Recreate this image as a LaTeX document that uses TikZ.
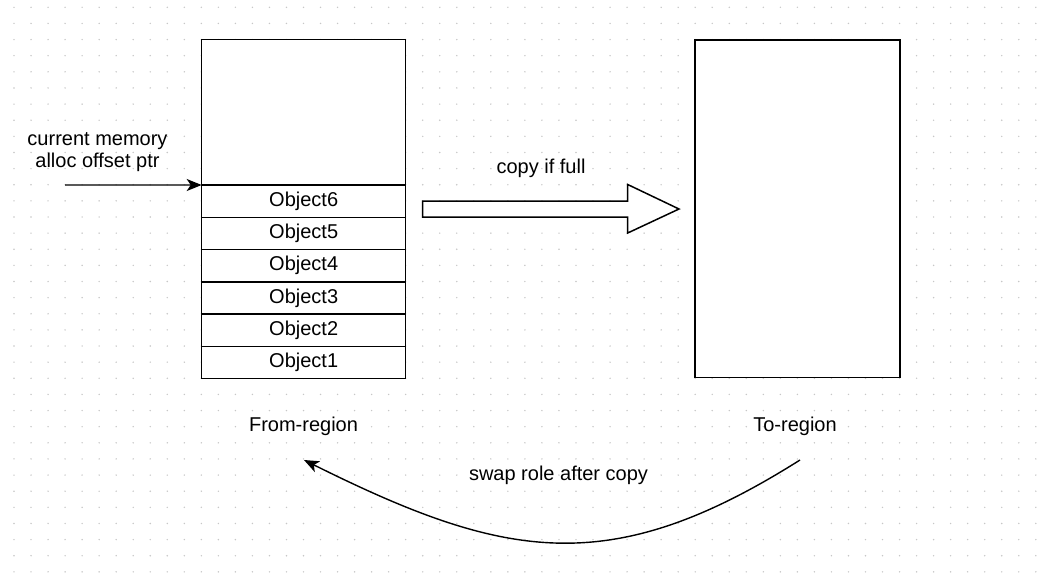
\documentclass[tikz,border=0pt]{standalone}
\usepackage{fontspec}
\setmainfont{Liberation Sans}
\usetikzlibrary{arrows.meta}
\begin{document}
\begin{tikzpicture}[x=1pt,y=-1pt,
  txt/.style={font=\fontsize{20}{21.5}\selectfont, inner sep=0pt, align=center},
  region/.style={draw, line width=1.5pt, inner sep=0pt, outer sep=0pt, anchor=north west},
  cell/.style={region, minimum width=204pt, minimum height=32.28pt, font=\fontsize{20}{23}\selectfont},
  ptr/.style={line width=1.4pt, -{Stealth[length=15pt,width=12pt,inset=4pt]}},
  griddot/.style={fill=black!22},
]
\useasboundingbox (0,0) rectangle (1050,574);
\fill[white] (0,0) rectangle (1050,574);

% dotted background grid
\foreach \i in {0,...,60}{
  \foreach \j in {0,...,35}{
    \fill[griddot] ({14+17.03*\i},{7.3+16.13*\j}) circle (0.8pt);
  }
}

% white backing of both regions, so the grid does not show through
\fill[white] (201.7,39.7) rectangle (405.7,378.7);
\fill[white] (695,40) rectangle (900,377.5);

% from-region: free space on top, allocated objects below
\node[region, minimum width=204pt, minimum height=145.3pt] (fromfree) at (201.7,39.7) {};
\node[cell] (obj6) at (fromfree.south west) {Object6};
\node[cell] (obj5) at (obj6.south west) {Object5};
\node[cell] (obj4) at (obj5.south west) {Object4};
\node[cell] (obj3) at (obj4.south west) {Object3};
\node[cell] (obj2) at (obj3.south west) {Object2};
\node[cell] (obj1) at (obj2.south west) {Object1};

% to-region
\node[region, minimum width=205pt, minimum height=337.5pt] (toregion) at (695,40) {};

% labels
\node[txt] (fromlabel) at (303.5,426) {From-region};
\node[txt] (tolabel) at (795,426) {To-region};
\node[txt] (ptrlabel) at (97.5,152) {current memory\\alloc offset ptr};
\node[txt] (copylabel) at (541,168) {copy if full};
\node[txt] (swaplabel) at (558.5,475) {swap role after copy};

% allocation pointer
\coordinate (ptrtail) at (65,185);
\draw[ptr] (ptrtail) -- (obj6.north west);

% block arrow: copy from-region into to-region
\draw[line width=1.5pt, fill=white, line join=miter]
  (422.7,201) -- (627.7,201) -- (627.7,184.5) -- (679,209) --
  (627.7,233) -- (627.7,217) -- (422.7,217) -- cycle;

% swapping roles after the copy
\coordinate (swapstart) at (800,460);
\coordinate (swapend) at (304,460);
\draw[ptr] (swapstart) .. controls (610,580) and (505,560) .. (swapend);
\end{tikzpicture}
\end{document}
